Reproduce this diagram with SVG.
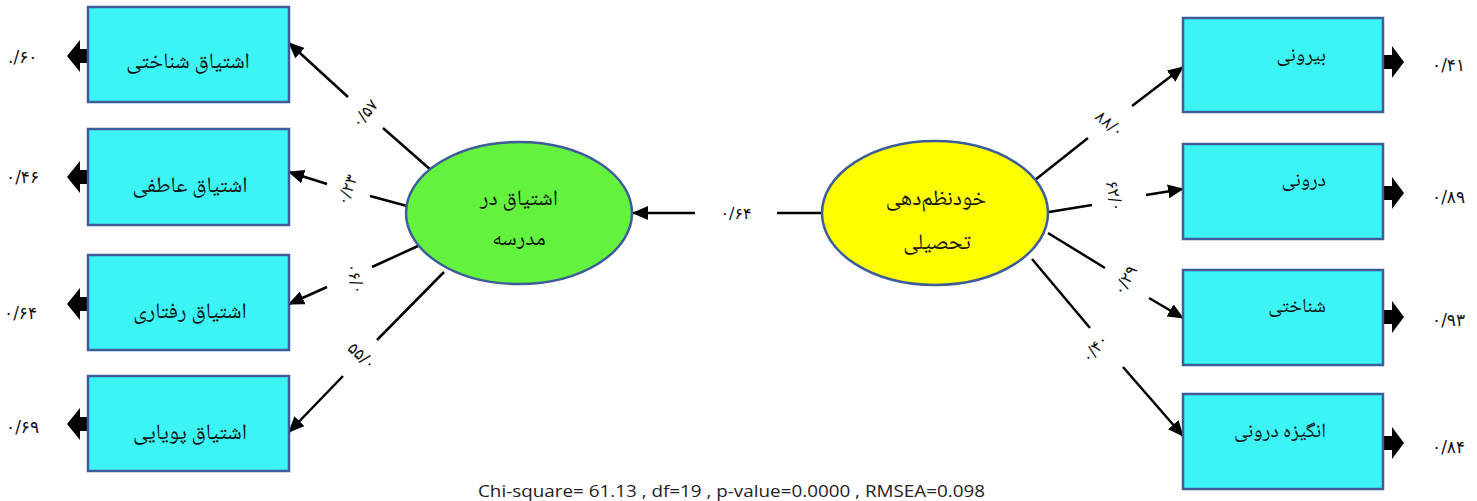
<svg xmlns="http://www.w3.org/2000/svg" width="1477" height="501" viewBox="0 0 1477 501">
<style>
.box{fill:#3cf4f4;stroke:#3d5c99;stroke-width:2.5}
.fa{font-family:"Noto Naskh Arabic","Noto Sans Arabic","DejaVu Sans",sans-serif;fill:#111}
.lbl{font-size:22px;text-anchor:middle}
.rl{font-size:20px;text-anchor:end}
.num{font-family:"DejaVu Sans",sans-serif;font-size:17px;fill:#111;direction:ltr}
.pl{font-size:16px;text-anchor:middle}
.ln{stroke:#000;stroke-width:2.5;fill:none}
.ar{marker-end:url(#ah)}
</style>
<defs>
<marker id="ah" markerUnits="userSpaceOnUse" markerWidth="16" markerHeight="14" refX="15" refY="7" orient="auto" viewBox="0 0 16 14">
<path d="M0,0 L16,7 L0,14 z" fill="#000"/>
</marker>
<path id="eL" d="M2,-7 H-8 V-16 L-21,0 L-8,16 V7 H2 Z" fill="#000"/>
<path id="eR" d="M-2,-7 H9 V-16 L21,0 L9,16 V7 H-2 Z" fill="#000"/>
</defs>

<g id="connectors">
<line class="ln" x1="432" y1="171" x2="383" y2="128"/>
<line class="ln ar" x1="348" y1="97" x2="289" y2="43"/>
<line class="ln" x1="407" y1="206" x2="370" y2="196"/>
<line class="ln ar" x1="327" y1="184" x2="289" y2="172"/>
<line class="ln" x1="418" y1="246" x2="372" y2="267"/>
<line class="ln ar" x1="327" y1="287" x2="289" y2="304"/>
<line class="ln" x1="444" y1="272" x2="377" y2="340"/>
<line class="ln ar" x1="343" y1="376" x2="289" y2="432"/>
<line class="ln" x1="822" y1="213" x2="777" y2="213"/>
<line class="ln ar" x1="695" y1="213" x2="633" y2="213"/>
<line class="ln" x1="1035" y1="180" x2="1088" y2="138"/>
<line class="ln ar" x1="1132" y1="106" x2="1183" y2="67"/>
<line class="ln" x1="1049" y1="212" x2="1092" y2="205"/>
<line class="ln ar" x1="1146" y1="195" x2="1183" y2="189"/>
<line class="ln" x1="1048" y1="233" x2="1105" y2="268"/>
<line class="ln ar" x1="1149" y1="298" x2="1183" y2="318"/>
<line class="ln" x1="1032" y1="259" x2="1090" y2="328"/>
<line class="ln ar" x1="1123" y1="367" x2="1183" y2="436"/>
<use href="#eL" transform="translate(88,56)"/>
<use href="#eL" transform="translate(88,177)"/>
<use href="#eL" transform="translate(88,304)"/>
<use href="#eL" transform="translate(88,424)"/>
<use href="#eR" transform="translate(1383,62)"/>
<use href="#eR" transform="translate(1383,193)"/>
<use href="#eR" transform="translate(1383,317)"/>
<use href="#eR" transform="translate(1383,443)"/>
<text class="num pl" transform="translate(369,117) rotate(-50)">۰/۵۷</text>
<text class="num pl" transform="translate(352,192) rotate(-68)">۰/۲۳</text>
<text class="num pl" transform="translate(350,280) rotate(75)">۰۶/۰</text>
<text class="num pl" transform="translate(358,360) rotate(42)">۵۵/۰</text>
<text class="num pl" x="736" y="219">۰/۶۴</text>
<text class="num pl" transform="translate(1106,128) rotate(40)">۸۸/۰</text>
<text class="num pl" transform="translate(1109,197) rotate(78)">۶۲/۰</text>
<text class="num pl" transform="translate(1130,283) rotate(-60)">۰/۲۹</text>
<text class="num pl" transform="translate(1099,352) rotate(-50)">۰/۴۰</text>
</g>

<g id="n-shenakhti-left">
<rect class="box" x="88" y="7" width="201" height="95"/>
<text class="fa lbl" x="188" y="68">اشتیاق شناختی</text>
<text class="num" x="8" y="63">./۶۰</text>
</g>
<g id="n-atefi">
<rect class="box" x="88" y="129" width="201" height="96"/>
<text class="fa lbl" x="190" y="192">اشتیاق عاطفی</text>
<text class="num" x="6" y="183">۰/۴۶</text>
</g>
<g id="n-raftari">
<rect class="box" x="88" y="255" width="201" height="95"/>
<text class="fa lbl" x="190" y="318">اشتیاق رفتاری</text>
<text class="num" x="4" y="319">۰/۶۴</text>
</g>
<g id="n-pouyayi">
<rect class="box" x="88" y="376" width="201" height="95"/>
<text class="fa lbl" x="190" y="439">اشتیاق پویایی</text>
<text class="num" x="6" y="433">۰/۶۹</text>
</g>

<g id="n-eshtiagh">
<ellipse cx="519" cy="213" rx="113" ry="71" fill="#63f33f" stroke="#3d5c99" stroke-width="2.5"/>
<text class="fa lbl" x="519" y="205">اشتیاق در</text>
<text class="fa lbl" x="519" y="245">مدرسه</text>
</g>
<g id="n-khodnazm">
<ellipse cx="935" cy="213" rx="113" ry="72" fill="#ffff00" stroke="#3d5c99" stroke-width="2.5"/>
<text class="fa lbl" x="936" y="205">خودنظم‌دهی</text>
<text class="fa lbl" x="937" y="249">تحصیلی</text>
</g>

<g id="n-biruni">
<rect class="box" x="1183" y="18" width="200" height="94"/>
<text class="fa rl" x="1326" y="61">بیرونی</text>
<text class="num" x="1432" y="71">۰/۴۱</text>
</g>
<g id="n-daruni">
<rect class="box" x="1183" y="144" width="200" height="95"/>
<text class="fa rl" x="1326" y="186">درونی</text>
<text class="num" x="1432" y="203">۰/۸۹</text>
</g>
<g id="n-shenakhti-right">
<rect class="box" x="1183" y="270" width="200" height="95"/>
<text class="fa rl" x="1326" y="312">شناختی</text>
<text class="num" x="1432" y="326">۰/۹۳</text>
</g>
<g id="n-angize">
<rect class="box" x="1183" y="394" width="200" height="95"/>
<text class="fa rl" x="1326" y="437">انگیزه درونی</text>
<text class="num" x="1432" y="453">۰/۸۴</text>
</g>

<text x="478" y="497" font-family="'Open Sans','Liberation Sans',sans-serif" font-size="17" fill="#222" textLength="507" lengthAdjust="spacingAndGlyphs">Chi-square= 61.13 , df=19 , p-value=0.0000 , RMSEA=0.098</text>
</svg>
